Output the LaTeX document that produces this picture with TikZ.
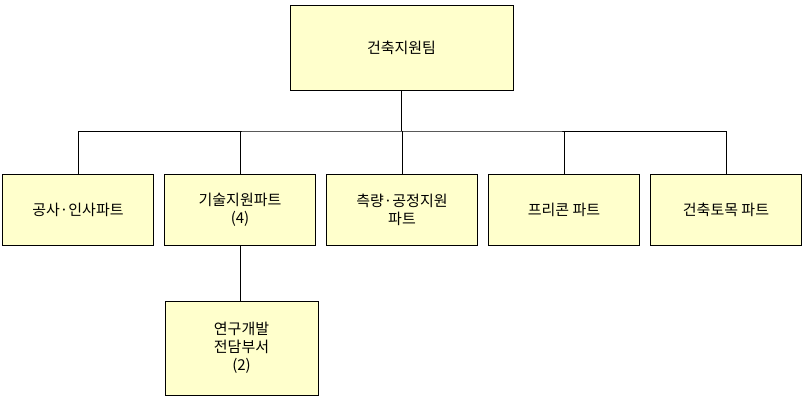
\documentclass[tikz,border=0pt]{standalone}
\usepackage{fontspec}
\setmainfont{Noto Sans CJK KR}
\usetikzlibrary{positioning}
\definecolor{boxfill}{RGB}{255,255,204}
\begin{document}
\begin{tikzpicture}[x=1pt, y=-1pt,
    unit/.style={draw=black, fill=boxfill, minimum width=151pt, minimum height=71pt, align=center, font=\fontsize{15}{18}\selectfont, inner sep=2pt}]
  \useasboundingbox (0,0) rectangle (806,410);
  % top box
  \node[unit, minimum width=223pt, minimum height=85pt] (team) at (401.5,47.5) {건축지원팀};
  % parts
  \node[unit] (p1) at (78,210) {공사·인사파트};
  \node[unit] (p2) at (240,210) {기술지원파트\\(4)};
  \node[unit] (p3) at (402,210) {측량·공정지원\\파트};
  \node[unit] (p4) at (564,210) {프리콘 파트};
  \node[unit] (p5) at (726,210) {건축토목 파트};
  \node[unit, minimum width=153pt, minimum height=94pt] (rnd) at (241.5,348) {연구개발\\전담부서\\(2)};
  % connectors
  \coordinate (bus) at (401.5,131);
  \draw[line width=1.5pt] (team.south) -- (bus);
  \draw (p1.north) |- (bus) -| (p5.north);
  \foreach \p in {p2,p3,p4} \draw (\p.north) -- (\p.north |- bus);
  \draw (p2.south) -- (p2.south |- rnd.north);
\end{tikzpicture}
\end{document}
